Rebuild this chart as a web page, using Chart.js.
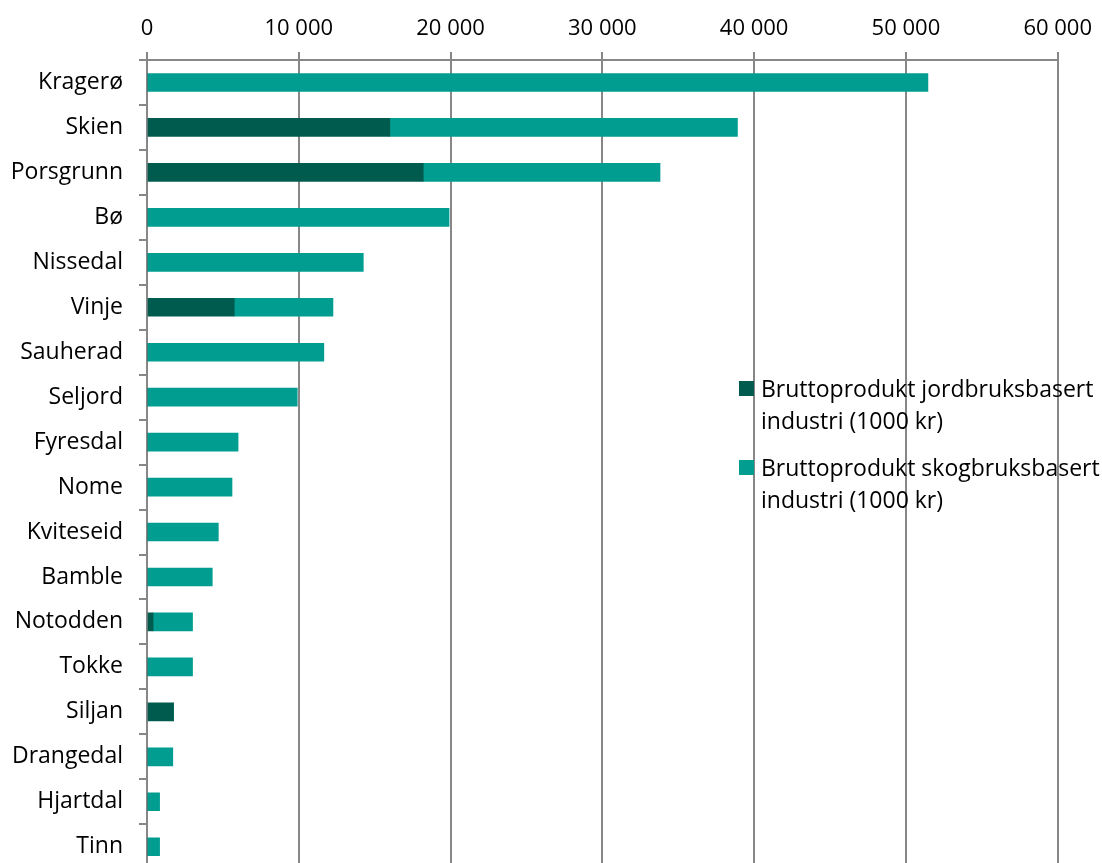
<!DOCTYPE html>
<html>
<head>
<meta charset="utf-8">
<script src="https://cdn.jsdelivr.net/npm/chart.js@4/dist/chart.umd.min.js"></script>
<style>
  html, body { margin: 0; padding: 0; background: #fff; overflow: hidden; }
  #wrap { position: relative; width: 1102px; height: 899px; }
  #legend { position: absolute; left: 739px; top: 372px; font-family: "Open Sans", sans-serif; font-size: 23px; color: #000; line-height: 32px; }
  .item { position: relative; padding-left: 22px; margin-bottom: 15px; white-space: nowrap; }
  .sw { position: absolute; left: 0; top: 9px; width: 15px; height: 15px; }
</style>
</head>
<body>
<div id="wrap">
  <canvas id="c" width="1102" height="899"></canvas>
  <div id="legend"></div>
</div>
<script>
const categories = ["Kragerø","Skien","Porsgrunn","Bø","Nissedal","Vinje","Sauherad","Seljord","Fyresdal","Nome","Kviteseid","Bamble","Notodden","Tokke","Siljan","Drangedal","Hjartdal","Tinn"];
const jordbruk = [0,16000,18200,0,0,5750,0,0,0,0,0,0,400,0,1750,0,0,0];
const skogbruk = [51450,22900,15600,19900,14250,6500,11650,9900,6000,5600,4700,4300,2600,3000,0,1700,830,830];
const seriesNames = ["Bruttoprodukt jordbruksbasert industri (1000 kr)","Bruttoprodukt skogbruksbasert industri (1000 kr)"];
const seriesLegendLines = [["Bruttoprodukt jordbruksbasert","industri (1000 kr)"],["Bruttoprodukt skogbruksbasert","industri (1000 kr)"]];
const xTicks = [0,10000,20000,30000,40000,50000,60000];
const colors = ["#005B4F","#009D90"];

const FONT = {family: "'Open Sans', sans-serif", size: 23};
const TICKFONT = {family: "'Open Sans', sans-serif", size: 22};
const GRID = "#878787";

new Chart(document.getElementById('c'), {
  type: 'bar',
  data: {
    labels: categories,
    datasets: [
      {label: seriesNames[0], data: jordbruk, backgroundColor: colors[0], barThickness: 18},
      {label: seriesNames[1], data: skogbruk, backgroundColor: colors[1], barThickness: 18}
    ]
  },
  options: {
    indexAxis: 'y',
    responsive: false,
    animation: false,
    layout: {padding: {top: 0, right: 41, bottom: 0, left: 0}},
    plugins: {legend: {display: false}, tooltip: {enabled: false}},
    scales: {
      x: {
        position: 'top',
        stacked: true,
        min: 0, max: 60000,
        afterBuildTicks: s => { s.ticks = xTicks.map(v => ({value: v})); },
        afterFit: s => { s.height = 60; },
        ticks: {
          font: TICKFONT, color: '#000', padding: 10, maxRotation: 0,
          callback: v => v.toString().replace(/\B(?=(\d{3})+(?!\d))/g, '\u00a0')
        },
        grid: {color: GRID, lineWidth: 2, tickLength: 8, drawTicks: true},
        border: {color: GRID, width: 2}
      },
      y: {
        stacked: true,
        afterFit: s => { s.width = 147; },
        ticks: {font: FONT, color: '#000', padding: 16},
        grid: {color: GRID, lineWidth: 2, tickLength: 8, drawOnChartArea: false, offset: true},
        border: {color: GRID, width: 2}
      }
    }
  }
});

const leg = document.getElementById('legend');
seriesLegendLines.forEach((lines, i) => {
  const d = document.createElement('div');
  d.className = 'item';
  const sw = document.createElement('span');
  sw.className = 'sw';
  sw.style.background = colors[i];
  d.appendChild(sw);
  lines.forEach(t => { const l = document.createElement('div'); l.textContent = t; d.appendChild(l); });
  leg.appendChild(d);
});
</script>
</body>
</html>
